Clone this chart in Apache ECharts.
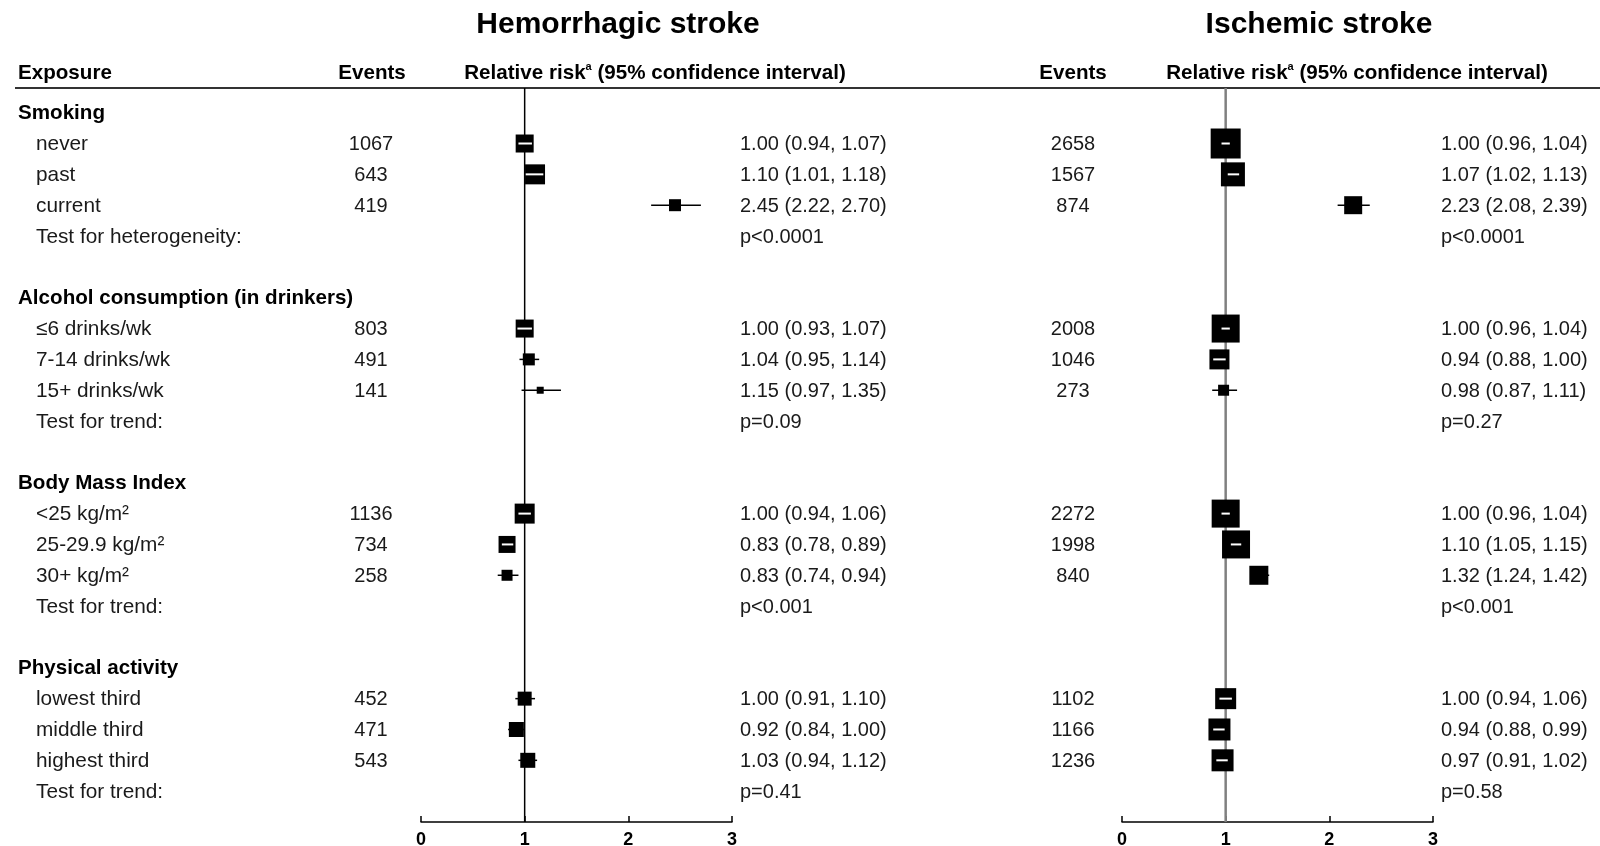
<!DOCTYPE html>
<html><head><meta charset="utf-8">
<script src="https://cdn.jsdelivr.net/npm/echarts@6/dist/echarts.min.js"></script>
<style>html,body{margin:0;padding:0;background:#fff}#c{width:1600px;height:846px}</style>
</head><body><div id="c"></div><script>
// ---------------- DATA ----------------
const groups = ['Smoking', 'Alcohol consumption (in drinkers)', 'Body Mass Index', 'Physical activity'];
const levels = [
  ['never', 'past', 'current'],
  ['≤6 drinks/wk', '7-14 drinks/wk', '15+ drinks/wk'],
  ['<25 kg/m²', '25-29.9 kg/m²', '30+ kg/m²'],
  ['lowest third', 'middle third', 'highest third']
];
const testLabels = ['Test for heterogeneity:', 'Test for trend:', 'Test for trend:', 'Test for trend:'];

const hemEvents = [1067, 643, 419, 803, 491, 141, 1136, 734, 258, 452, 471, 543];
const hemRR     = [1.00, 1.10, 2.45, 1.00, 1.04, 1.15, 1.00, 0.83, 0.83, 1.00, 0.92, 1.03];
const hemLo     = [0.94, 1.01, 2.22, 0.93, 0.95, 0.97, 0.94, 0.78, 0.74, 0.91, 0.84, 0.94];
const hemHi     = [1.07, 1.18, 2.70, 1.07, 1.14, 1.35, 1.06, 0.89, 0.94, 1.10, 1.00, 1.12];
const hemWeight = [18, 20, 12, 18, 12, 7, 20, 17, 11, 14, 15, 15];
const hemP      = ['p<0.0001', 'p=0.09', 'p<0.001', 'p=0.41'];

const isEvents = [2658, 1567, 874, 2008, 1046, 273, 2272, 1998, 840, 1102, 1166, 1236];
const isRR     = [1.00, 1.07, 2.23, 1.00, 0.94, 0.98, 1.00, 1.10, 1.32, 1.00, 0.94, 0.97];
const isLo     = [0.96, 1.02, 2.08, 0.96, 0.88, 0.87, 0.96, 1.05, 1.24, 0.94, 0.88, 0.91];
const isHi     = [1.04, 1.13, 2.39, 1.04, 1.00, 1.11, 1.04, 1.15, 1.42, 1.06, 0.99, 1.02];
const isWeight = [30, 24, 18, 28, 20, 11, 28, 28, 19, 21, 22, 22];
const isP      = ['p<0.0001', 'p=0.27', 'p<0.001', 'p=0.58'];

const xTicks = [0, 1, 2, 3];

// ---------------- LAYOUT ----------------
const FONT = "'Liberation Sans', Arial, Helvetica, sans-serif";
const FS_NUM = 20, FS_LBL = 20.8, FS_BOLD = 20.6;
const Y_MIN = -0.8, Y_MAX = 23.0;
const TOP = 88, BOTTOM = 24;
const BOX_SCALE = 1;
const COL = { head: 18, item: 36, hEv: 371, hRR: 740, iEv: 1073, iRR: 1441 };

const rowOf = (g, k) => g * 6 + 1 + k;
const testRow = g => g * 6 + 4;
const fmt = v => v.toFixed(2);

const texts = [];
groups.forEach((g, gi) => {
  texts.push({ x: COL.head, row: gi * 6, text: g, kind: 'bold', align: 'left' });
  levels[gi].forEach((lv, k) => {
    const i = gi * 3 + k, r = rowOf(gi, k);
    texts.push({ x: COL.item, row: r, text: lv, kind: 'lbl', align: 'left' });
    texts.push({ x: COL.hEv, row: r, text: String(hemEvents[i]), kind: 'num', align: 'center' });
    texts.push({ x: COL.hRR, row: r, text: fmt(hemRR[i]) + ' (' + fmt(hemLo[i]) + ', ' + fmt(hemHi[i]) + ')', kind: 'num', align: 'left' });
    texts.push({ x: COL.iEv, row: r, text: String(isEvents[i]), kind: 'num', align: 'center' });
    texts.push({ x: COL.iRR, row: r, text: fmt(isRR[i]) + ' (' + fmt(isLo[i]) + ', ' + fmt(isHi[i]) + ')', kind: 'num', align: 'left' });
  });
  texts.push({ x: COL.item, row: testRow(gi), text: testLabels[gi], kind: 'lbl', align: 'left' });
  texts.push({ x: COL.hRR, row: testRow(gi), text: hemP[gi], kind: 'num', align: 'left' });
  texts.push({ x: COL.iRR, row: testRow(gi), text: isP[gi], kind: 'num', align: 'left' });
});

function forestData(rr, lo, hi, w) {
  const d = [];
  groups.forEach((g, gi) => levels[gi].forEach((lv, k) => {
    const i = gi * 3 + k;
    d.push([rr[i], rowOf(gi, k), lo[i], hi[i], w[i]]);
  }));
  return d;
}

function forestRender(params, api) {
  const y = api.value(1);
  const c = api.coord([api.value(0), y]);
  const l = api.coord([api.value(2), y]);
  const h = api.coord([api.value(3), y]);
  const s = api.value(4) * BOX_SCALE, half = s / 2;
  const ch = [
    { type: 'line', shape: { x1: l[0], y1: c[1], x2: h[0], y2: c[1] }, style: { stroke: '#000', lineWidth: 1.5 } },
    { type: 'rect', shape: { x: c[0] - half, y: c[1] - half, width: s, height: s }, style: { fill: '#000' } }
  ];
  if (h[0] - l[0] < s - 2) {
    ch.push({ type: 'line', shape: { x1: l[0], y1: c[1], x2: h[0], y2: c[1] }, style: { stroke: '#fff', lineWidth: 2 } });
  }
  return { type: 'group', children: ch };
}

function xAxisCfg(gi) {
  return {
    gridIndex: gi, type: 'value', position: 'bottom', min: xTicks[0], max: xTicks[xTicks.length - 1], interval: 1,
    axisLine: { show: true, onZero: false, lineStyle: { color: '#000', width: 1.5 } },
    axisTick: { show: true, inside: true, length: 6, lineStyle: { color: '#000', width: 1.5 } },
    axisLabel: { show: true, color: '#000', fontFamily: FONT, fontWeight: 'bold', fontSize: 18, margin: 9 },
    splitLine: { show: false }
  };
}
const yAxisCfg = gi => ({ gridIndex: gi, type: 'value', min: Y_MIN, max: Y_MAX, inverse: true, show: false });

function hdr(text, x, y, align, size) {
  return { type: 'text', x: x, y: y, silent: true,
    style: { text: text, fontFamily: FONT, fontWeight: 'bold', fontSize: size, fill: '#000',
      align: align, verticalAlign: 'middle', textAlign: align, textVerticalAlign: 'middle',
      rich: { sup: { fontFamily: FONT, fontWeight: 'bold', fontSize: 11, fill: '#000', padding: [0, 0, 12, 0] } } } };
}

const option = {
  backgroundColor: '#fff',
  animation: false,
  grid: [
    { left: 421, width: 311, top: TOP, bottom: BOTTOM, outerBoundsMode: 'none', containLabel: false },
    { left: 1122, width: 311, top: TOP, bottom: BOTTOM, outerBoundsMode: 'none', containLabel: false },
    { left: 0, right: 0, top: TOP, bottom: BOTTOM, outerBoundsMode: 'none', containLabel: false }
  ],
  xAxis: [xAxisCfg(0), xAxisCfg(1), { gridIndex: 2, type: 'value', min: 0, max: 1600, show: false }],
  yAxis: [yAxisCfg(0), yAxisCfg(1), yAxisCfg(2)],
  series: [
    { type: 'line', xAxisIndex: 0, yAxisIndex: 0, symbol: 'none', silent: true, z: 1,
      data: [[1, Y_MIN], [1, Y_MAX]], lineStyle: { color: '#000', width: 1.5 } },
    { type: 'line', xAxisIndex: 1, yAxisIndex: 1, symbol: 'none', silent: true, z: 1,
      data: [[1, Y_MIN], [1, Y_MAX]], lineStyle: { color: '#808080', width: 2.5 } },
    { type: 'custom', xAxisIndex: 0, yAxisIndex: 0, z: 3, silent: true,
      data: forestData(hemRR, hemLo, hemHi, hemWeight), renderItem: forestRender },
    { type: 'custom', xAxisIndex: 1, yAxisIndex: 1, z: 3, silent: true,
      data: forestData(isRR, isLo, isHi, isWeight), renderItem: forestRender },
    { type: 'custom', xAxisIndex: 2, yAxisIndex: 2, z: 4, silent: true,
      data: texts.map(t => [t.x, t.row]),
      renderItem: function (params, api) {
        const t = texts[params.dataIndex];
        const p = api.coord([api.value(0), api.value(1)]);
        const bold = t.kind === 'bold';
        const fs = bold ? FS_BOLD : (t.kind === 'lbl' ? FS_LBL : FS_NUM);
        return { type: 'text', x: p[0], y: p[1] + 1,
          style: { text: t.text, fill: bold ? '#000' : '#1a1a1a',
            font: (bold ? 'bold ' : '') + fs + 'px ' + FONT,
            align: t.align, verticalAlign: 'middle', textAlign: t.align, textVerticalAlign: 'middle' } };
      } }
  ],
  graphic: [
    hdr('Hemorrhagic stroke', 618, 25, 'center', 30),
    hdr('Ischemic stroke', 1319, 25, 'center', 30),
    hdr('Exposure', 18, 73, 'left', FS_BOLD),
    hdr('Events', 372, 73, 'center', FS_BOLD),
    hdr('Events', 1073, 73, 'center', FS_BOLD),
    hdr('Relative risk{sup|a} (95% confidence interval)', 655, 73, 'center', FS_BOLD),
    hdr('Relative risk{sup|a} (95% confidence interval)', 1357, 73, 'center', FS_BOLD),
    { type: 'line', silent: true, shape: { x1: 15, y1: TOP, x2: 1600, y2: TOP }, style: { stroke: '#333', lineWidth: 2 } }
  ]
};
const chart = echarts.init(document.getElementById('c'));
chart.setOption(option);
</script></body></html>
